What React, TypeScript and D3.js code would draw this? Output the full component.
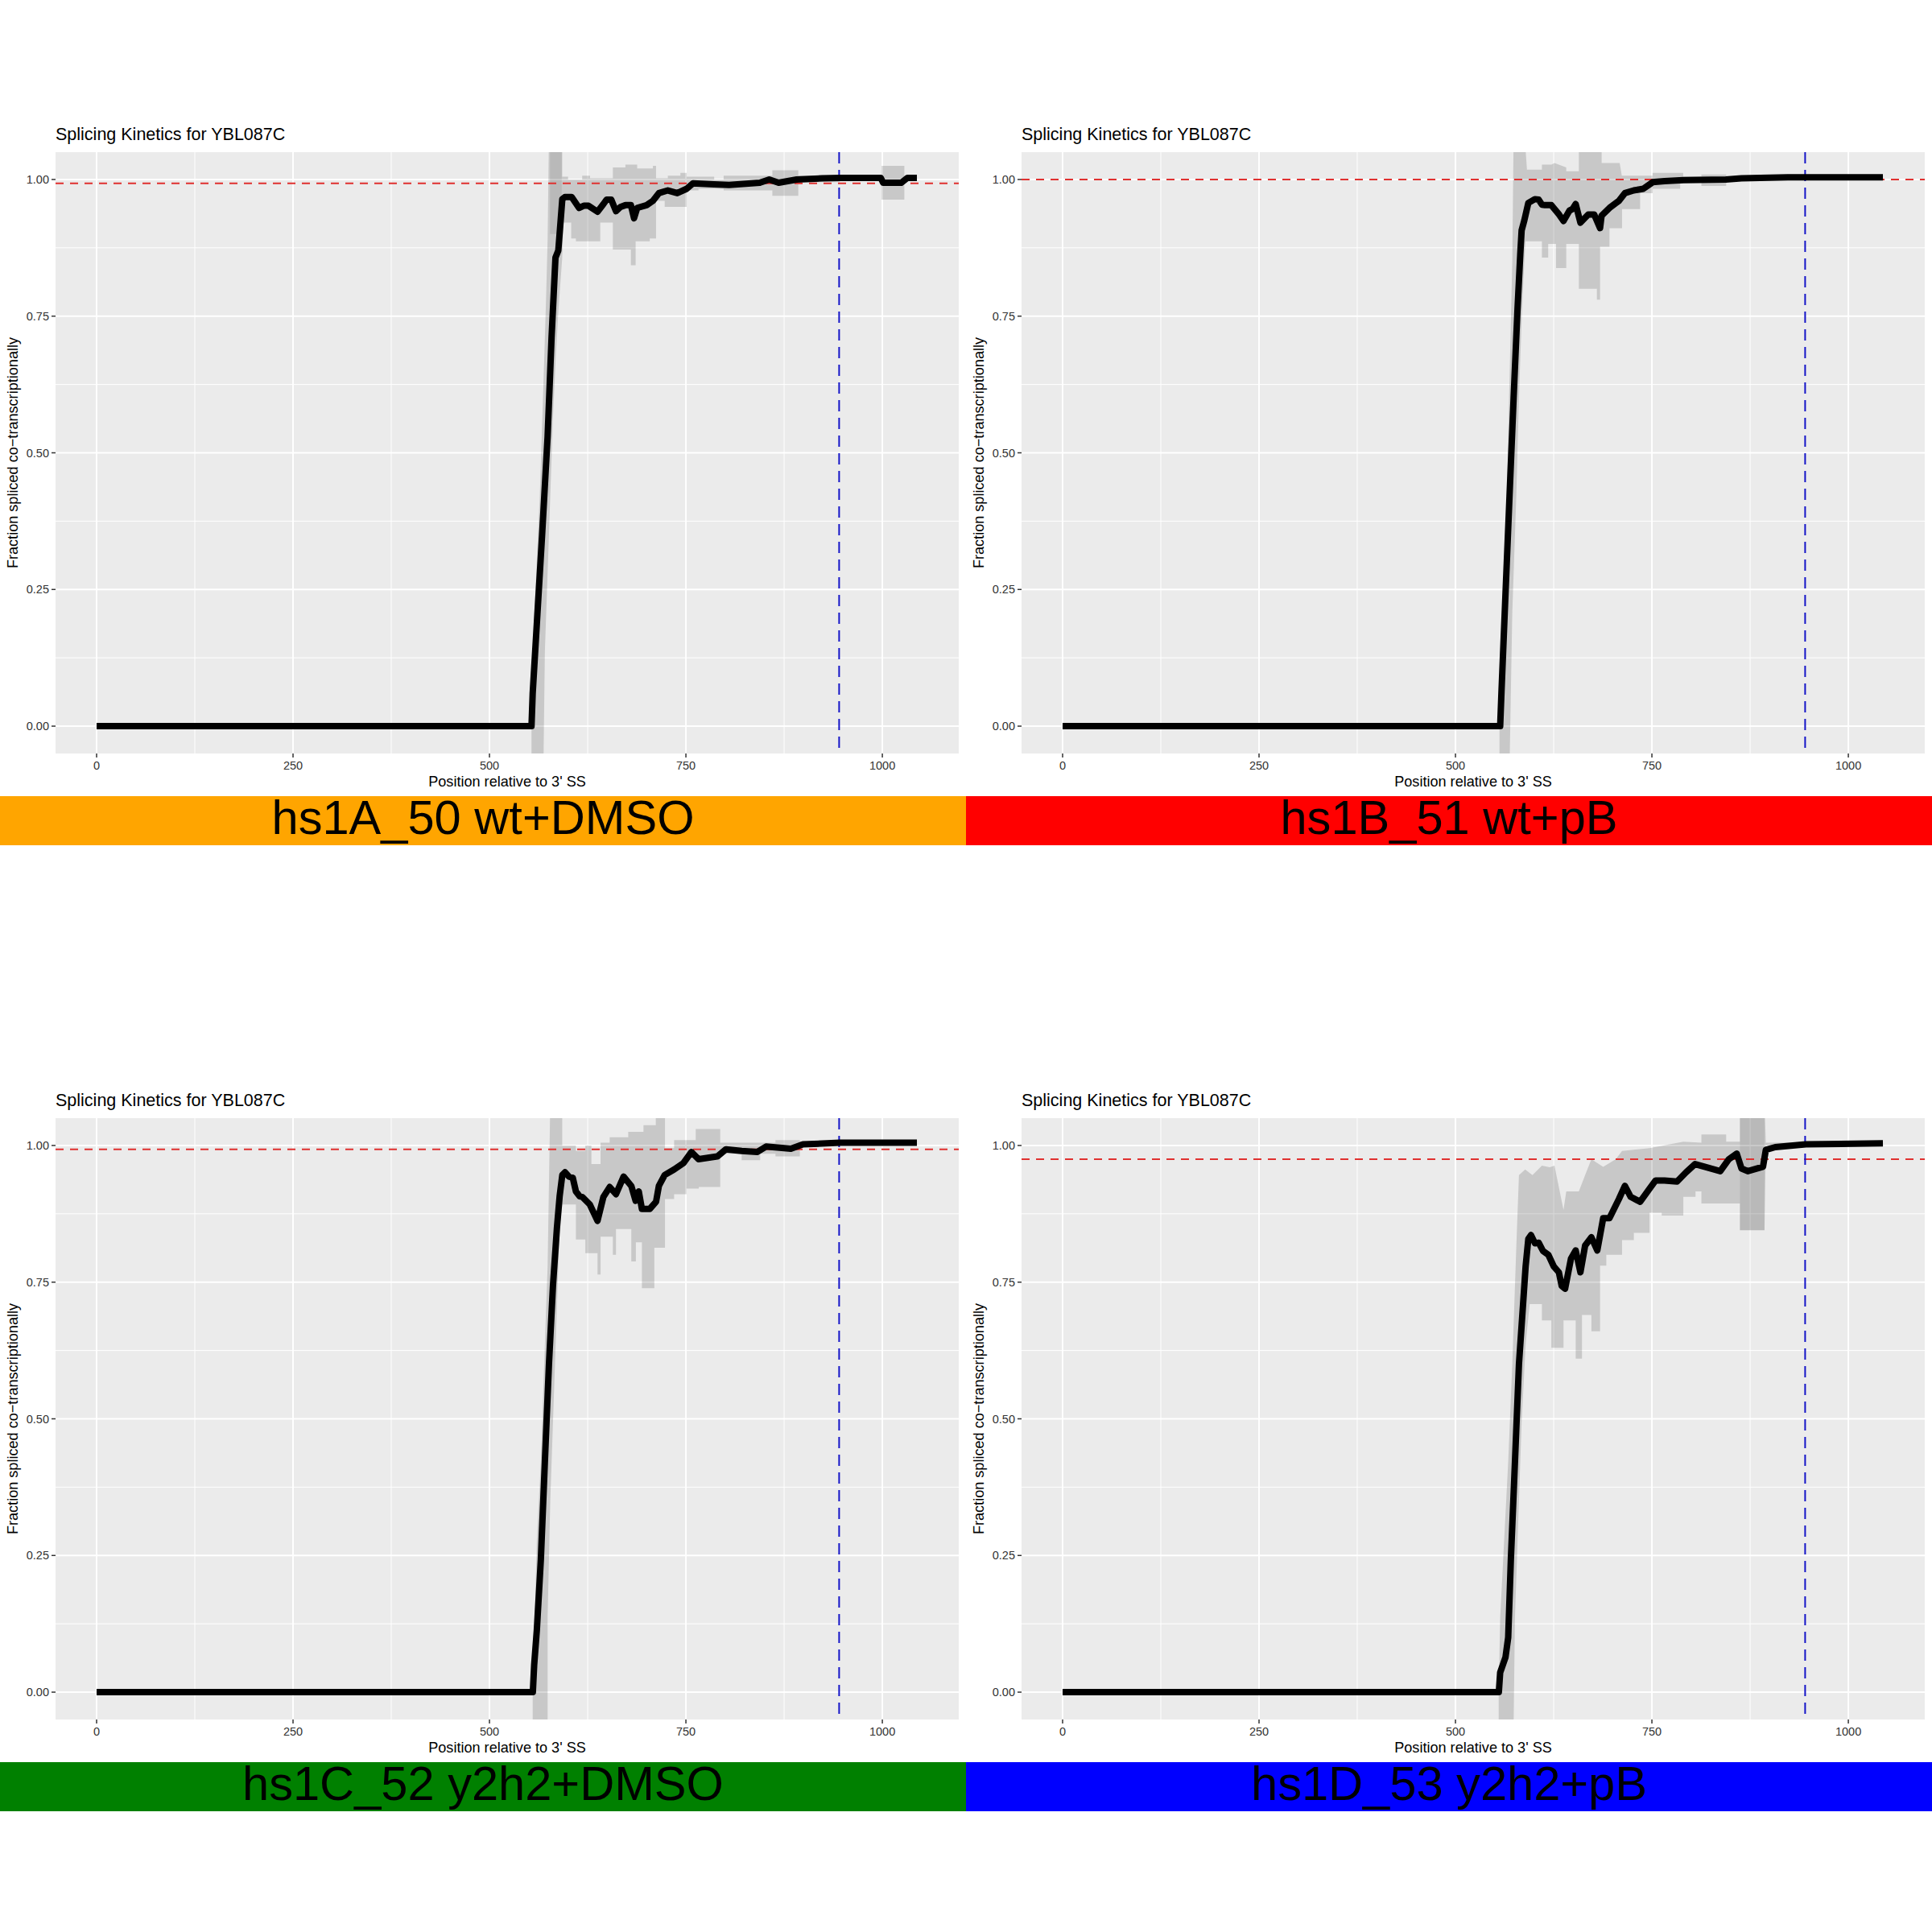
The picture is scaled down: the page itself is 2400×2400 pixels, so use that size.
import React from "react";
import * as d3 from "d3";

type Pt = [number, number];

// axis ticks
const xTicks = [0, 250, 500, 750, 1000];
const xMinor = [125, 375, 625, 875];
const yTicks = [0, 0.25, 0.5, 0.75, 1];
const yMinor = [0.125, 0.375, 0.625, 0.875];
const yTickLabels = ["0.00", "0.25", "0.50", "0.75", "1.00"];

const plotTitle = "Splicing Kinetics for YBL087C";
const xTitle = "Position relative to 3' SS";
const yTitle = "Fraction spliced co\u2212transcriptionally";

const sampleNames = ["hs1A_50 wt+DMSO", "hs1B_51 wt+pB", "hs1C_52 y2h2+DMSO", "hs1D_53 y2h2+pB"];
const sampleColors = ["#FFA500", "#FF0000", "#008000", "#0000FF"];
const meanLevels = [0.993, 1.0, 0.993, 0.975];
const cutoffX = 945;

// hs1A
const lineA: Pt[] = [[0,0],[553.5,0],[555,0.06],[567,0.35],[574,0.53],[579,0.71],[584,0.857],[587.6,0.87],[592.7,0.964],[596,0.968],[604.6,0.968],[614,0.948],[620,0.952],[626,0.952],[637.5,0.941],[645,0.955],[649,0.963],[655,0.963],[661,0.942],[667,0.95],[673,0.953],[680,0.953],[684,0.929],[688,0.948],[700,0.953],[708,0.961],[715.6,0.975],[727,0.98],[739,0.975],[751,0.983],[759,0.993],[786,0.991],[805,0.99],[844,0.994],[856,1.0],[868,0.994],[891,1.0],[923,1.002],[946,1.003],[998,1.003],[1001,0.994],[1024,0.994],[1032,1.003],[1044,1.003]];
const hiA: Pt[] = [[553.5,0],[557,0.2],[564,0.42],[569,0.64],[572,0.78],[574,0.89],[575.7,1.08],[592.6,1.08],[592.6,1.005],[600,1.005],[600,1.0],[618,1.0],[618,1.007],[628,1.007],[628,1.002],[657,1.002],[657,1.022],[673,1.022],[673,1.027],[688,1.027],[688,1.02],[708,1.02],[708,1.025],[712,1.025],[712,1.002],[727,1.002],[727,1.007],[743,1.007],[743,1.012],[751,1.012],[751,1.005],[786,1.005],[786,1.0],[798,1.0],[798,1.007],[860,1.007],[860,1.017],[893,1.017],[893,1.007],[946,1.007],[946,1.006],[999,1.006],[999,1.025],[1028,1.025],[1028,1.006],[1044,1.006]];
const loA: Pt[] = [[553.5,0],[553.5,-0.06],[568.8,-0.06],[570.5,0.136],[575.7,0.35],[580.8,0.564],[584.2,0.671],[587.6,0.757],[592.6,0.857],[594,0.921],[604,0.921],[604,0.892],[610,0.892],[610,0.887],[641,0.887],[641,0.921],[657,0.921],[657,0.872],[680,0.872],[680,0.843],[686,0.843],[686,0.887],[704,0.887],[704,0.892],[712,0.892],[712,0.961],[723,0.961],[723,0.95],[751,0.95],[751,0.98],[766,0.98],[766,0.983],[798,0.983],[798,0.98],[860,0.98],[860,0.97],[893,0.97],[893,0.995],[946,0.995],[946,1.0],[999,1.0],[999,0.963],[1028,0.963],[1028,1.0],[1044,1.0]];
const extraHiA: Pt[] = [[577,1.08],[592,1.08]];
const extraLoA: Pt[] = [[577,0.9],[592,0.9]];

// hs1B
const lineB: Pt[] = [[0,0],[556.9,0],[558.6,0.064],[563.7,0.243],[568.8,0.421],[574,0.6],[579,0.764],[582.5,0.864],[584.2,0.907],[587.6,0.925],[592.7,0.957],[601,0.964],[606,0.963],[610,0.954],[614,0.953],[622,0.953],[631.8,0.936],[637.5,0.924],[645,0.943],[649,0.946],[653,0.955],[659,0.921],[669,0.936],[676.5,0.936],[684,0.911],[686,0.934],[696,0.948],[708,0.961],[715.6,0.975],[727,0.98],[739,0.983],[751,0.995],[766,0.997],[790,0.999],[844,1.0],[864,1.002],[923,1.004],[1044,1.004]];
const hiB: Pt[] = [[556,0],[560.3,0.207],[565.4,0.421],[568.8,0.636],[572.3,0.85],[574,1.08],[588,1.08],[591,1.018],[610,1.018],[610,1.027],[622,1.027],[626,1.03],[641,1.022],[641,1.015],[657,1.015],[657,1.08],[686,1.08],[686,1.03],[709,1.03],[711.7,1.007],[750.8,1.007],[750.8,1.012],[789.8,1.012],[789.8,1.005],[813,1.005],[813,1.009],[844.5,1.009],[844.5,1.006],[1044,1.006]];
const loB: Pt[] = [[556,0],[556,-0.06],[569,-0.06],[572.3,0.207],[577.4,0.421],[580.8,0.6],[584.2,0.743],[587.6,0.85],[589,0.887],[610,0.887],[610,0.857],[618,0.857],[618,0.882],[628,0.882],[628,0.838],[641,0.838],[641,0.882],[657,0.882],[657,0.8],[680,0.8],[680,0.78],[684,0.78],[684,0.877],[696,0.877],[696,0.911],[712,0.911],[712,0.946],[735,0.946],[735,0.975],[751,0.975],[751,0.983],[786,0.983],[786,0.995],[813,0.995],[813,0.988],[844.5,0.988],[844.5,1.002],[1044,1.002]];

// hs1C
const lineC: Pt[] = [[0,0],[555.2,0],[556.9,0.05],[560.3,0.114],[565.4,0.243],[570.5,0.421],[575.7,0.6],[580.8,0.743],[585.9,0.85],[589.3,0.907],[592.7,0.946],[596.1,0.951],[601.2,0.943],[606,0.941],[610,0.916],[614.8,0.907],[618,0.906],[627.7,0.892],[637.5,0.862],[645,0.906],[653,0.924],[661,0.911],[670.7,0.943],[680.5,0.926],[686,0.899],[690,0.916],[694,0.884],[704,0.884],[712,0.897],[715.6,0.926],[723,0.946],[735,0.956],[747,0.968],[757,0.988],[766,0.975],[790,0.98],[801,0.993],[821,0.99],[840.6,0.988],[852,0.998],[883.6,0.994],[899,1.002],[946,1.005],[1044,1.005]];
const hiC: Pt[] = [[555,0],[556.9,0.1],[560.3,0.279],[565.4,0.42],[570.5,0.636],[574,0.779],[577.4,1.08],[592.6,1.08],[592.6,1.0],[610,1.0],[610,0.99],[622,0.99],[622,1.0],[629.7,1.0],[629.7,0.966],[641.4,0.966],[641.4,1.005],[653,1.005],[653,1.015],[676.6,1.015],[676.6,1.025],[696,1.025],[696,1.037],[711.7,1.037],[711.7,1.08],[723.4,1.08],[723.4,0.995],[735,0.995],[735,1.01],[762.5,1.01],[762.5,1.03],[793.7,1.03],[793.7,1.005],[864,1.005],[864,1.01],[895,1.01],[895,1.007],[1044,1.007]];
const loC: Pt[] = [[555,0],[555,-0.06],[574,-0.06],[574,0.136],[577.4,0.35],[582.5,0.564],[585.9,0.707],[589.3,0.85],[592.7,0.892],[610,0.892],[610,0.828],[622,0.828],[622,0.803],[637.5,0.803],[637.5,0.764],[641.4,0.764],[641.4,0.833],[657,0.833],[657,0.8],[661,0.8],[661,0.847],[680.5,0.847],[680.5,0.788],[686.3,0.788],[686.3,0.823],[694,0.823],[694,0.739],[709.8,0.739],[709.8,0.813],[723.4,0.813],[723.4,0.902],[735,0.902],[735,0.911],[750.8,0.911],[750.8,0.921],[766.4,0.921],[766.4,0.924],[793.7,0.924],[793.7,0.985],[821,0.985],[821,0.973],[844.5,0.973],[844.5,0.985],[864,0.985],[864,0.98],[895,0.98],[895,1.003],[1044,1.003]];

// hs1D
const lineD: Pt[] = [[0,0],[555.2,0],[556.9,0.036],[563.7,0.064],[567.1,0.1],[570.5,0.243],[575.7,0.421],[580.8,0.6],[585.9,0.707],[589.3,0.779],[592.7,0.829],[596.1,0.836],[601.2,0.821],[606,0.822],[611.4,0.807],[618.2,0.8],[625,0.779],[631.6,0.768],[635.2,0.743],[639.5,0.738],[647,0.793],[653,0.808],[659,0.768],[665,0.817],[673,0.832],[680.5,0.808],[688,0.867],[696,0.867],[708,0.902],[715.6,0.926],[723,0.906],[735,0.897],[747,0.921],[754.7,0.936],[766,0.936],[782,0.934],[793.5,0.951],[805,0.966],[817,0.961],[837,0.953],[848,0.975],[858,0.985],[864,0.958],[872,0.953],[891.4,0.961],[895,0.992],[907,0.997],[946,1.002],[1044,1.004]];
const hiD: Pt[] = [[555,0],[556.9,0.136],[562,0.279],[567.1,0.421],[572.3,0.6],[577.4,0.814],[580.8,0.946],[588.7,0.956],[598,0.946],[610,0.963],[620,0.96],[626,0.963],[637.5,0.882],[641,0.916],[657,0.916],[665,0.946],[673,0.975],[688,0.961],[704,0.975],[712,0.99],[747,0.995],[790,1.007],[813,1.005],[813,1.02],[844.5,1.02],[844.5,1.007],[862,1.007],[862,1.08],[893.3,1.08],[895,1.005],[1044,1.006]];
const loD: Pt[] = [[555,0],[555,-0.06],[574,-0.06],[575.7,0.136],[580.8,0.35],[584.2,0.493],[589.3,0.636],[594.4,0.71],[610,0.71],[610,0.68],[622,0.68],[622,0.63],[637.5,0.63],[637.5,0.68],[653,0.68],[653,0.61],[661,0.61],[661,0.69],[673,0.69],[673,0.66],[684,0.66],[684,0.78],[692,0.78],[692,0.8],[712,0.8],[712,0.827],[727,0.827],[727,0.84],[747,0.84],[747,0.877],[762.5,0.877],[762.5,0.872],[790,0.872],[790,0.906],[805.5,0.906],[805.5,0.916],[813,0.916],[813,0.894],[862,0.894],[862,0.845],[893.3,0.845],[895,1.0],[1044,1.002]];
const extraHiD: Pt[] = [[862,1.08],[893.3,1.08]];
const extraLoD: Pt[] = [[862,0.845],[893.3,0.845]];

const panels = [
  { line: lineA, hi: hiA, lo: loA, extra: [extraHiA, extraLoA] },
  { line: lineB, hi: hiB, lo: loB, extra: null },
  { line: lineC, hi: hiC, lo: loC, extra: null },
  { line: lineD, hi: hiD, lo: loD, extra: [extraHiD, extraLoD] },
];

const CELL = 1200;
const FONT = "'Liberation Sans', Arial, Helvetica, sans-serif";
const PL = 69, PR = 1191, PT = 189, PB = 936;

const x = d3.scaleLinear().domain([-52.25, 1097.25]).range([PL, PR]);
const y = d3.scaleLinear().domain([-0.05, 1.05]).range([PB, PT]);

const lineGen = d3.line<Pt>().x(d => x(d[0])).y(d => y(d[1]));

// ribbon = upper edge left->right, then lower edge back
const ribbonPath = (hi: Pt[], lo: Pt[]) =>
  (lineGen(hi.concat(lo.slice().reverse())) || "") + "Z";

const Panel = ({ i }: { i: number }) => {
  const p = panels[i];
  const col = i % 2, row = Math.floor(i / 2);
  const clipId = `clip-${i}`;
  return (
    <g transform={`translate(${col * CELL},${row * CELL})`}>
      <defs>
        <clipPath id={clipId}>
          <rect x={PL} y={PT} width={PR - PL} height={PB - PT} />
        </clipPath>
      </defs>
      <text x={PL} y={174} fontSize={21.5} fill="#000">{plotTitle}</text>
      <rect x={PL} y={PT} width={PR - PL} height={PB - PT} fill="#EBEBEB" />
      {xMinor.map(v => (
        <line key={"xm" + v} x1={x(v)} x2={x(v)} y1={PT} y2={PB} stroke="#fff" strokeWidth={1} />
      ))}
      {yMinor.map(v => (
        <line key={"ym" + v} x1={PL} x2={PR} y1={y(v)} y2={y(v)} stroke="#fff" strokeWidth={1} />
      ))}
      {xTicks.map(v => (
        <line key={"xg" + v} x1={x(v)} x2={x(v)} y1={PT} y2={PB} stroke="#fff" strokeWidth={1.9} />
      ))}
      {yTicks.map(v => (
        <line key={"yg" + v} x1={PL} x2={PR} y1={y(v)} y2={y(v)} stroke="#fff" strokeWidth={1.9} />
      ))}
      <g clipPath={`url(#${clipId})`}>
        <path d={ribbonPath(p.hi, p.lo)} fill="#000" fillOpacity={0.15} />
        {p.extra && <path d={ribbonPath(p.extra[0], p.extra[1])} fill="#000" fillOpacity={0.07} />}
        <line x1={PL} x2={PR} y1={y(meanLevels[i])} y2={y(meanLevels[i])}
          stroke="#e0302f" strokeWidth={2} strokeDasharray="10 8" />
        <line x1={x(cutoffX)} x2={x(cutoffX)} y1={PT} y2={PB}
          stroke="#1414c8" strokeWidth={2} strokeDasharray="14 8" />
        <path d={lineGen(p.line) || ""} fill="none" stroke="#000" strokeWidth={8}
          strokeLinejoin="round" />
      </g>
      {xTicks.map(v => (
        <g key={"xt" + v}>
          <line x1={x(v)} x2={x(v)} y1={PB} y2={PB + 5} stroke="#333" strokeWidth={1.5} />
          <text x={x(v)} y={956} fontSize={14.5} textAnchor="middle" fill="#333">{v}</text>
        </g>
      ))}
      {yTicks.map((v, k) => (
        <g key={"yt" + v}>
          <line x1={PL - 5} x2={PL} y1={y(v)} y2={y(v)} stroke="#333" strokeWidth={1.5} />
          <text x={PL - 8} y={y(v) + 5} fontSize={14.5} textAnchor="end" fill="#333">{yTickLabels[k]}</text>
        </g>
      ))}
      <text x={(PL + PR) / 2} y={977} fontSize={18.1} textAnchor="middle" fill="#000">{xTitle}</text>
      <text transform={`translate(22,${(PT + PB) / 2}) rotate(-90)`} fontSize={18.1}
        textAnchor="middle" fill="#000">{yTitle}</text>
      <rect x={0} y={989} width={CELL} height={61} fill={sampleColors[i]} />
      <text x={CELL / 2} y={1036} fontSize={59.6} textAnchor="middle" fill="#000">{sampleNames[i]}</text>
    </g>
  );
};

export default function App() {
  return (
    <svg width={2400} height={2400} viewBox="0 0 2400 2400"
      style={{ position: "absolute", left: 0, top: 0, background: "#fff" }}
      fontFamily={FONT}>
      <rect width={2400} height={2400} fill="#fff" />
      {panels.map((_, i) => <Panel key={i} i={i} />)}
    </svg>
  );
}
